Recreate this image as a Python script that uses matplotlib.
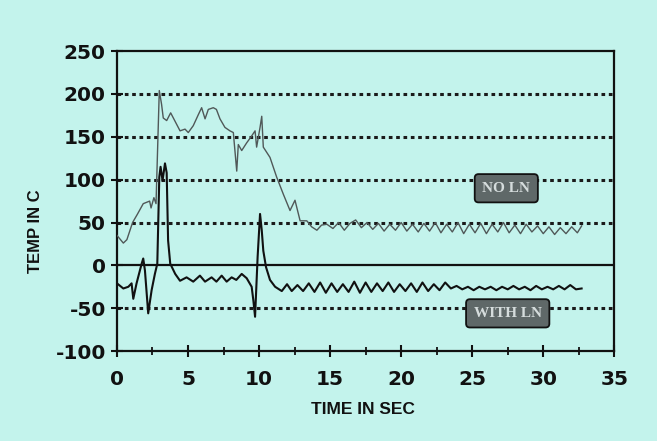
import matplotlib
matplotlib.use("Agg")
import matplotlib.pyplot as plt

# ---- data ----
no_ln_t = [0.0, 0.45, 0.7, 1.1, 1.45, 1.85, 2.3, 2.4, 2.6, 2.75, 2.98, 3.14, 3.26, 3.5, 3.78, 4.0,
           4.44, 4.79, 5.02, 5.37, 5.73, 5.96, 6.2, 6.43, 6.78, 7.0, 7.25, 7.6, 7.95, 8.19,
           8.43, 8.54, 8.78, 9.13, 9.48, 9.72, 9.83, 10.07, 10.19, 10.3, 10.77, 11.24, 11.71,
           12.18, 12.53, 12.89, 13.36, 13.7, 14.07, 14.4, 14.77,
           15.2, 15.6, 16.0, 16.4, 16.8, 17.2, 17.6, 18.0, 18.4, 18.8, 19.2, 19.6, 20.0, 20.4,
           20.8, 21.2, 21.6, 22.0, 22.4, 22.8, 23.2, 23.6, 24.0, 24.4, 24.8, 25.2, 25.6, 26.0,
           26.4, 26.8, 27.2, 27.6, 28.0, 28.4, 28.8, 29.2, 29.6, 30.0, 30.4, 30.8, 31.2, 31.6,
           32.0, 32.4, 32.7]
no_ln_T = [35, 26, 30, 50, 60, 72, 75, 67, 79, 72, 204, 188, 172, 169, 178, 171,
           157, 159, 155, 163, 176, 184, 171, 182, 184, 182, 171, 161, 157, 155,
           110, 141, 134, 143, 151, 157, 138, 161, 174, 138, 126, 103, 83,
           64, 76, 52, 52, 45, 41, 47, 48,
           43, 50, 41, 49, 53, 44, 50, 42, 49, 40, 48, 41, 50, 40,
           48, 39, 49, 40, 50, 38, 48, 39, 50, 37, 48, 38, 49, 37,
           48, 39, 50, 38, 47, 37, 48, 39, 46, 37, 45, 36, 44, 37,
           45, 38, 46]

with_ln_t = [0.0, 0.45, 0.8, 1.03, 1.15, 1.38, 1.74, 1.85, 1.97, 2.2, 2.44, 2.67, 2.84, 2.98,
             3.07, 3.21, 3.38, 3.5, 3.6, 3.75, 4.1, 4.44, 4.9, 5.37, 5.84, 6.2, 6.66, 7.0,
             7.37, 7.72, 8.07, 8.4, 8.78, 9.13, 9.48, 9.6, 9.72, 9.9, 10.07, 10.19, 10.3,
             10.49, 10.77, 11.13, 11.6, 11.97, 12.3, 12.7,
             13.1, 13.5, 13.9, 14.3, 14.7, 15.1, 15.5, 15.9, 16.3, 16.7, 17.1, 17.5, 17.9,
             18.3, 18.7, 19.1, 19.5, 19.9, 20.3, 20.7, 21.1, 21.5, 21.9, 22.3, 22.7, 23.1,
             23.5, 23.9, 24.3, 24.7, 25.1, 25.5, 25.9, 26.3, 26.7, 27.1, 27.5, 27.9, 28.3,
             28.7, 29.1, 29.5, 29.9, 30.3, 30.7, 31.1, 31.5, 31.9, 32.3, 32.7]
with_ln_T = [-21, -27, -25, -21, -39, -21, 2, 8, -6, -56, -29, -10, 2, 103,
             115, 99, 119, 108, 29, 2, -10, -18, -14, -19, -12, -19, -14, -19,
             -12, -19, -14, -17, -10, -15, -25, -41, -60, 10, 60, 41, 17,
             -2, -17, -25, -30, -22, -30, -23,
             -30, -21, -31, -20, -32, -21, -31, -22, -31, -19, -32, -20, -31,
             -21, -30, -20, -31, -22, -30, -21, -31, -20, -30, -22, -29, -20,
             -27, -24, -28, -25, -29, -25, -28, -25, -29, -25, -28, -24, -28,
             -25, -29, -24, -28, -25, -28, -24, -28, -23, -28, -27]

y_ticks = [-100, -50, 0, 50, 100, 150, 200, 250]
grid_levels = [-50, 50, 100, 150, 200]
x_ticks = [0, 5, 10, 15, 20, 25, 30, 35]
x_minor = [2.5, 7.5, 12.5, 17.5, 22.5, 27.5, 32.5]
labels = [("NO LN", 27.4, 90), ("WITH LN", 27.5, -56)]

bg = "#c3f3ec"
ink = "#111111"
fig = plt.figure(figsize=(6.57, 4.41), dpi=100, facecolor=bg)
ax = fig.add_axes([0.178, 0.204, 0.757, 0.680])
ax.set_facecolor(bg)

for g in grid_levels:
    ax.axhline(g, color="#1a1a1a", lw=2.2, ls=(0, (1.2, 1.2)), zorder=1)
ax.axhline(0, color=ink, lw=1.6, zorder=2)

ax.plot(no_ln_t, no_ln_T, color="#505858", lw=1.0, zorder=3)
ax.plot(with_ln_t, with_ln_T, color=ink, lw=1.5, zorder=4)

ax.set_xlim(0, 35)
ax.set_ylim(-100, 250)
ax.set_xticks(x_ticks)
ax.set_xticks(x_minor, minor=True)
ax.set_yticks(y_ticks)
tick_font = dict(family="DejaVu Sans", weight="bold", size=14.5)
ax.set_xticklabels([str(v) for v in x_ticks], **tick_font)
ax.set_yticklabels([str(v) for v in y_ticks], **tick_font)
ax.tick_params(axis="both", which="major", direction="inout", length=8, width=1.5,
               color=ink, labelcolor=ink)
ax.tick_params(axis="x", which="minor", direction="inout", length=6, width=1.3, color=ink)
ax.tick_params(axis="x", pad=10)
ax.tick_params(axis="y", pad=4)
for s in ax.spines.values():
    s.set_linewidth(1.6)
    s.set_color(ink)

fig.text(363 / 657, 1 - 410 / 441, "TIME IN SEC", family="Liberation Sans", weight="bold",
         size=12.5, color=ink, ha="center", va="center")
fig.text(36 / 657, 1 - 231 / 441, "TEMP IN C", family="Liberation Sans", weight="bold",
         size=12, color=ink, ha="center", va="center", rotation=90)

for txt, tx, ty in labels:
    ax.text(tx, ty, txt, family="Liberation Serif", weight="bold", size=11,
            color="#d5dcdc", ha="center", va="center", zorder=6,
            bbox=dict(boxstyle="round,pad=0.5,rounding_size=0.25", fc="#5f6868",
                      ec=ink, lw=1.3))

fig.savefig("out.png", dpi=100, facecolor=bg)
